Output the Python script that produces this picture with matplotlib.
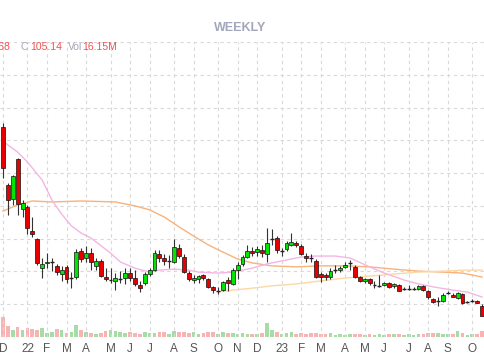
import pandas as pd
import matplotlib
matplotlib.use('Agg')
import matplotlib.pyplot as plt

plt.rcParams['font.family'] = ['Liberation Sans', 'DejaVu Sans']

# weekly bars, Friday dates
dates = pd.date_range('2021-12-03', periods=99, freq='W-FRI')

opens = [164.1, 146.4, 142.1, 154.3, 139.0, 139.7, 132.3, 129.9, 121.0, 122.6,
         122.9, 121.7, 119.2, 121.4, 117.7, 118.3, 126.2, 124.1, 125.6, 121.7,
         123.2, 118.3, 117.4, 117.1, 117.6, 118.0, 119.5, 118.0, 115.9, 116.5,
         119.2, 120.4, 125.3, 124.1, 123.2, 122.9, 127.1, 124.4, 119.5, 117.4,
         117.7, 118.9, 117.7, 115.3, 114.0, 114.3, 117.4, 116.2, 120.4, 122.3,
         124.4, 126.2, 125.9, 126.5, 125.3, 129.9, 130.2, 126.2, 126.8, 128.1,
         128.7, 127.8, 124.7, 124.1, 123.2, 119.2, 118.9, 118.3, 120.4, 120.4,
         121.4, 122.6, 121.4, 118.3, 117.1, 117.7, 115.9, 115.6, 115.9, 116.5,
         115.6, 115.9, 114.6, 114.6, 114.6, 114.6, 115.6, 114.0, 111.6, 111.0,
         111.0, 113.4, 112.8, 111.9, 113.1, 110.7, 111.0, 111.0, 109.5]
highs = [165.3, 147.0, 149.4, 154.6, 141.8, 140.3, 136.6, 130.2, 124.1, 125.6,
         124.1, 122.3, 121.7, 122.0, 119.8, 126.8, 127.1, 127.8, 127.1, 124.1,
         123.8, 121.0, 121.0, 119.5, 120.1, 121.0, 121.0, 120.4, 117.1, 119.8,
         121.0, 126.5, 126.5, 125.3, 125.0, 129.9, 128.4, 125.3, 120.1, 118.9,
         118.9, 119.2, 118.0, 115.6, 115.3, 117.1, 118.3, 121.0, 122.9, 125.0,
         128.1, 127.5, 127.8, 128.1, 133.2, 132.9, 130.8, 127.1, 129.3, 131.7,
         129.3, 128.4, 125.6, 125.3, 123.8, 119.8, 119.5, 121.0, 122.0, 121.7,
         122.9, 123.5, 122.0, 118.6, 118.0, 118.0, 117.1, 118.9, 116.8, 116.8,
         116.5, 116.2, 115.3, 115.9, 115.3, 115.9, 115.9, 114.3, 111.9, 112.2,
         113.4, 114.0, 113.4, 113.7, 113.4, 111.0, 111.6, 111.3, 110.1]
lows = [148.5, 137.2, 140.3, 137.2, 136.6, 131.4, 130.5, 122.0, 118.0, 121.0,
        120.1, 118.9, 117.1, 116.5, 114.9, 117.7, 122.9, 122.9, 120.4, 120.4,
        118.3, 117.1, 116.5, 114.3, 116.5, 116.2, 117.1, 115.6, 113.7, 115.9,
        118.6, 120.1, 122.9, 122.0, 121.0, 122.6, 124.1, 119.5, 117.1, 116.5,
        116.5, 117.4, 114.9, 113.4, 113.1, 114.0, 114.0, 115.9, 117.7, 121.7,
        124.1, 124.7, 124.7, 124.4, 122.9, 128.1, 125.6, 124.7, 126.2, 127.8,
        127.5, 125.0, 122.9, 122.9, 118.0, 116.8, 117.4, 117.7, 119.5, 119.8,
        121.0, 120.4, 118.0, 116.8, 116.5, 115.9, 114.9, 115.3, 115.6, 114.9,
        114.9, 113.9, 114.3, 114.3, 114.3, 114.3, 114.0, 111.6, 110.4, 109.5,
        110.7, 113.1, 112.2, 111.6, 110.1, 110.4, 110.7, 110.4, 106.4]
closes = [151.5, 141.8, 149.1, 140.6, 140.9, 133.2, 131.4, 122.6, 122.3, 122.9,
          123.0, 119.8, 120.4, 117.7, 118.0, 125.9, 123.8, 125.6, 122.9, 123.2,
          118.6, 117.7, 117.5, 118.0, 117.7, 119.5, 118.0, 116.2, 114.9, 119.2,
          120.4, 125.6, 124.1, 123.2, 123.3, 127.5, 124.7, 119.8, 117.7, 118.0,
          118.6, 118.0, 115.3, 114.3, 114.1, 116.8, 116.5, 120.4, 122.0, 124.4,
          126.2, 125.6, 126.8, 125.6, 128.7, 130.0, 126.5, 126.3, 128.7, 129.0,
          128.1, 125.3, 124.1, 123.8, 118.3, 118.3, 118.3, 120.1, 120.5, 121.0,
          122.0, 122.7, 118.3, 117.1, 117.7, 116.5, 116.0, 115.7, 116.5, 115.3,
          116.2, 114.0, 114.7, 114.7, 114.6, 115.6, 114.3, 112.2, 110.7, 111.1,
          112.8, 113.7, 112.2, 113.4, 110.4, 110.8, 111.1, 110.4, 106.4]
volumes = [54.0, 29.7, 18.9, 27.0, 18.9, 24.3, 21.6, 18.9, 24.3, 10.8,
           13.5, 21.6, 18.9, 10.8, 13.5, 32.4, 18.9, 13.5, 10.8, 8.1,
           10.8, 16.2, 18.9, 16.2, 13.5, 10.8, 13.5, 10.8, 8.1, 13.5,
           10.8, 10.8, 13.5, 13.5, 8.1, 16.2, 13.5, 13.5, 10.8, 13.5,
           8.1, 10.8, 13.5, 13.5, 8.1, 13.5, 10.8, 10.8, 8.1, 10.8,
           8.1, 8.1, 8.1, 10.8, 37.8, 18.9, 13.5, 8.1, 10.8, 13.5,
           8.1, 10.8, 8.1, 10.8, 10.8, 8.1, 8.1, 10.8, 5.4, 8.1,
           5.4, 8.1, 8.1, 8.1, 5.4, 8.1, 5.4, 8.1, 5.4, 8.1,
           8.1, 8.1, 5.4, 8.1, 5.4, 8.1, 8.1, 10.8, 10.8, 10.8,
           8.1, 8.1, 8.1, 16.2, 10.8, 5.4, 8.1, 8.1, 16.15]

# moving averages at a few bars
ma_fast_idx = [0, 1, 3, 5, 8, 10, 12, 14, 16, 18, 22, 24, 27, 30, 32, 35, 38, 40,
               44, 47, 51, 54, 58, 61, 64, 68, 71, 75, 78, 82, 85, 88, 92, 95, 98]
ma_fast = [159.8, 158.6, 156.4, 153.4, 147.9, 141.8, 137.5, 133.9, 131.7, 130.2,
           125.6, 122.9, 121.0, 119.8, 120.4, 120.7, 120.4, 119.8, 119.5, 119.8,
           121.0, 122.3, 123.5, 124.4, 124.7, 124.7, 124.1, 121.4, 119.5, 117.4,
           116.2, 115.3, 114.3, 113.7, 112.2]
ma_mid_idx = [0, 3, 6, 10, 16, 23, 27, 30, 33, 36, 39, 42, 45, 48, 51, 55, 60,
              65, 70, 75, 80, 85, 90, 94, 98]
ma_mid = [138.4, 140.3, 141.5, 141.2, 141.5, 141.2, 140.0, 138.8, 136.6, 133.6,
          130.8, 128.1, 125.9, 123.8, 122.6, 121.7, 121.4, 121.7, 121.7, 121.4,
          120.7, 120.1, 119.8, 119.5, 118.3]
ma_slow_idx = [44, 47, 51, 55, 60, 65, 70, 75, 80, 85, 90, 94, 98]
ma_slow = [113.7, 114.3, 114.9, 115.6, 116.2, 117.1, 118.0, 118.6, 119.2, 119.8,
           120.1, 120.4, 120.4]

UP = '#00e600'
DOWN = '#e80000'

fig = plt.figure(figsize=(4.85, 3.6), dpi=100)
ax = fig.add_axes([0, 23 / 360, 1, 295 / 360])
ax2 = ax.twinx()
ax.set_zorder(ax2.get_zorder() + 1)
ax.patch.set_visible(False)

x = list(range(len(dates)))

# volume
vcols = ['#a6dca6' if c >= o else '#f8b4b4' for o, c in zip(opens, closes)]
ax2.bar(x, volumes, width=0.75, color=vcols, linewidth=0)
ax2.set_ylim(0, 796)
ax2.set_yticks([])

# moving averages
ax.plot(ma_mid_idx, ma_mid, color='#f8b27c', lw=1.0, zorder=2)
ax.plot(ma_slow_idx, ma_slow, color='#fbd8a6', lw=1.0, zorder=2)
ax.plot(ma_fast_idx, ma_fast, color='#f3b6e4', lw=1.0, zorder=2)

# candles
for i in x:
    o, h, l, c = opens[i], highs[i], lows[i], closes[i]
    ax.vlines(i, l, h, color='#333333', lw=0.8, zorder=3)
    body = abs(c - o)
    col = UP if c >= o else DOWN
    if body < 0.3:
        ax.hlines((o + c) / 2, i - 0.4, i + 0.4, color='#222222', lw=1.0, zorder=4)
    else:
        ax.bar(i, body, bottom=min(o, c), width=0.8, color=col,
               edgecolor='#111111', linewidth=0.5, zorder=4)

# month ticks
tick_pos = []
tick_lab = []
for i in x:
    if i == 0 or dates[i].month != dates[i - 1].month:
        tick_pos.append(i)
        tick_lab.append(dates[i].strftime('%y') if dates[i].month == 1
                        else dates[i].strftime('%b')[0])

ax.set_xlim(-3 / 4.888, 482 / 4.888)
ax.set_ylim(100, 190)
ax.set_yticks(range(110, 191, 10))
ax.set_xticks(tick_pos)
ax.set_xticklabels(tick_lab, fontsize=8.5, color='#555555')
ax.tick_params(axis='x', length=0, pad=4)
ax.tick_params(axis='y', length=0, labelleft=False)
ax.grid(True, linestyle=(0, (3, 3)), color='#d9d9d9', lw=0.8)
for a in (ax, ax2):
    for s in a.spines.values():
        s.set_visible(False)

# header
fig.text(0.495, 1 - 28 / 360, 'WEEKLY', ha='center', va='center',
         fontsize=9, fontweight='bold', color='#a4a7bb')
hy = 1 - 47 / 360
fig.text(10 / 485, hy, '104.68', ha='right', va='center', fontsize=7.5, color='#f05252')
fig.text(21 / 485, hy, 'C', ha='left', va='center', fontsize=7.5, color='#a4a7bb')
fig.text(30 / 485, hy, '105.14', ha='left', va='center', fontsize=7.5, color='#f05252')
fig.text(68 / 485, hy, 'Vol', ha='left', va='center', fontsize=7.5, color='#a4a7bb')
fig.text(82 / 485, hy, '16.15M', ha='left', va='center', fontsize=7.5, color='#f05252')

fig.savefig('out.png', dpi=100)
